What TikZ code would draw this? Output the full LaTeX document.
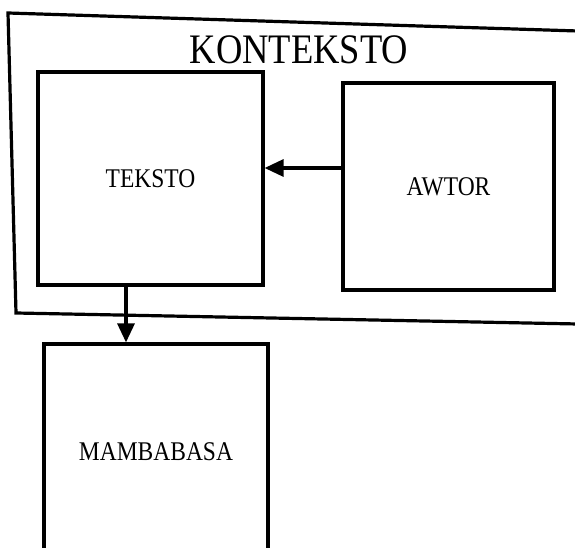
\documentclass[tikz,border=0pt]{standalone}
\usepackage{fontspec}
\setmainfont[FakeStretch=0.87]{Liberation Serif}
\usetikzlibrary{arrows.meta}
\begin{document}
\begin{tikzpicture}[x=1pt,y=-1pt,
  frame/.style={line width=3.2pt, line join=miter},
  box/.style={draw, line width=3.2pt, rectangle, inner sep=0pt, font=\fontsize{27}{30}\selectfont},
  conn/.style={line width=3.2pt, -{Triangle[length=19pt,width=17pt]}}]
\useasboundingbox (0,0) rectangle (575,548);
\clip (0,0) rectangle (575,548);
% outer context frame
\coordinate (fTR) at (578,31);
\coordinate (fTL) at (8,13);
\coordinate (fBL) at (16,313);
\coordinate (fBR) at (578,324);
\draw[frame] (fTR) -- (fTL) -- (fBL) -- (fBR);
\node[font=\fontsize{42}{46}\selectfont] (ctx) at (299,50) {KONTEKSTO};
% boxes
\node[box, minimum width=225pt, minimum height=213pt] (teksto) at (150.5,178.5) {TEKSTO};
\node[box, minimum width=211pt, minimum height=207pt] (awtor) at (448.5,186.5) {AWTOR};
\node[box, minimum width=224pt, minimum height=216pt] (mamb) at (156,452) {MAMBABASA};
% connectors
\draw[conn] (awtor.west |- 0,168) -- (teksto.east |- 0,168);
\draw[conn] (teksto.south -| 126,0) -- (mamb.north -| 126,0);
\end{tikzpicture}
\end{document}
